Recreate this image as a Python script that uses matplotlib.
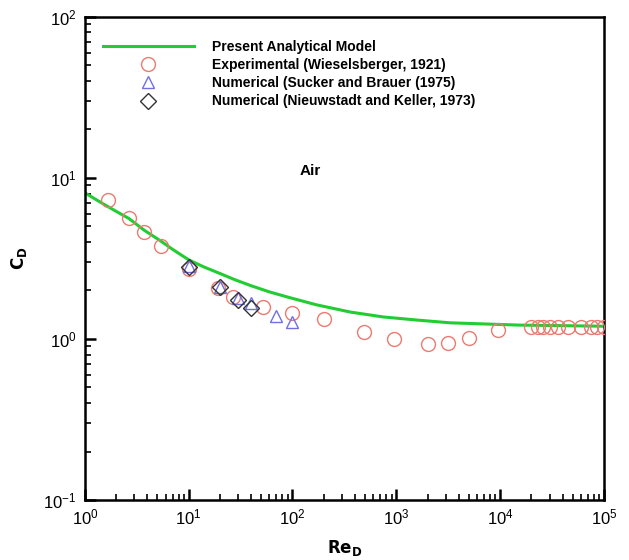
import matplotlib
matplotlib.use("Agg")
import matplotlib.pyplot as plt
from matplotlib.ticker import LogLocator, NullFormatter

plt.rcParams["font.family"] = ["Liberation Sans", "DejaVu Sans"]

# Present analytical model
model_re = [1, 1.5, 2, 2.65, 3.7, 5.4, 7, 10, 14, 20, 28, 40, 60, 90, 170, 360,
            750, 1600, 3300, 7000, 15000, 40000, 100000]
model_cd = [8.07, 6.9, 6.2, 5.6, 4.75, 4.05, 3.6, 3.1, 2.8, 2.55, 2.33, 2.14,
            1.96, 1.82, 1.63, 1.47, 1.37, 1.31, 1.26, 1.24, 1.22, 1.21, 1.20]

# Experimental (Wieselsberger, 1921)
exp_re = [1.66, 2.65, 3.7, 5.4, 10, 19, 26.5, 52, 100, 200, 490, 960, 2040, 3170,
          5030, 9550, 20000, 23000, 26000, 30000, 36000, 45000, 60000, 75000,
          85000, 100000]
exp_cd = [7.3, 5.6, 4.6, 3.8, 2.72, 2.07, 1.82, 1.58, 1.45, 1.33, 1.10, 1.0, 0.93,
          0.94, 1.01, 1.14, 1.19, 1.19, 1.19, 1.19, 1.19, 1.19, 1.19, 1.19,
          1.19, 1.19]

# Numerical (Sucker and Brauer, 1975)
sb_re = [10, 20, 30, 40, 70, 100]
sb_cd = [2.85, 2.1, 1.8, 1.67, 1.39, 1.28]

# Numerical (Nieuwstadt and Keller, 1973)
nk_re = [10, 20, 30, 40]
nk_cd = [2.8, 2.1, 1.75, 1.56]

fig = plt.figure(figsize=(6.29, 5.6), dpi=100)
ax = fig.add_axes([0.135, 0.107, 0.825, 0.863])

ax.plot(model_re, model_cd, color="#22cc33", linewidth=2.2,
        label="Present Analytical Model", zorder=2)
ax.plot(exp_re, exp_cd, linestyle="none", marker="o", markersize=10,
        markerfacecolor="none", markeredgecolor="#ec7a70", markeredgewidth=1.0,
        label="Experimental (Wieselsberger, 1921)", zorder=3)
ax.plot(sb_re, sb_cd, linestyle="none", marker="^", markersize=9,
        markerfacecolor="none", markeredgecolor="#7070e0", markeredgewidth=1.0,
        label="Numerical (Sucker and Brauer (1975)", zorder=4)
ax.plot(nk_re, nk_cd, linestyle="none", marker="D", markersize=8,
        markerfacecolor="none", markeredgecolor="#333333", markeredgewidth=1.0,
        label="Numerical (Nieuwstadt and Keller, 1973)", zorder=5)

ax.set_xscale("log")
ax.set_yscale("log")
ax.set_xlim(1, 1e5)
ax.set_ylim(0.1, 100)

ax.xaxis.set_major_locator(LogLocator(base=10, numticks=10))
ax.xaxis.set_minor_locator(LogLocator(base=10, subs=range(2, 10), numticks=20))
ax.yaxis.set_major_locator(LogLocator(base=10, numticks=10))
ax.yaxis.set_minor_locator(LogLocator(base=10, subs=range(2, 10), numticks=20))
ax.xaxis.set_minor_formatter(NullFormatter())
ax.yaxis.set_minor_formatter(NullFormatter())

ax.tick_params(which="both", direction="in", top=False, right=False,
               labelsize=12, width=1.2)
ax.tick_params(which="major", length=8, width=1.8)
ax.tick_params(which="minor", length=4)
ax.tick_params(axis="x", which="major", pad=5)
ax.tick_params(axis="y", which="major", pad=6)
for s in ax.spines.values():
    s.set_linewidth(1.8)

ax.set_xlabel(r"$\mathbf{Re_D}$", fontsize=12, labelpad=8)
ax.set_ylabel(r"$\mathbf{C_D}$", fontsize=12, labelpad=10)

ax.text(0.413, 0.681, "Air", transform=ax.transAxes, fontsize=11,
        fontweight="bold", ha="left", va="center")

leg = ax.legend(loc="upper left", frameon=False, fontsize=10, handlelength=6.6,
                numpoints=1, bbox_to_anchor=(0.01, 0.978), labelspacing=0.3,
                handletextpad=1.3)
for t in leg.get_texts():
    t.set_fontweight("bold")

fig.savefig("out.png", dpi=100)
